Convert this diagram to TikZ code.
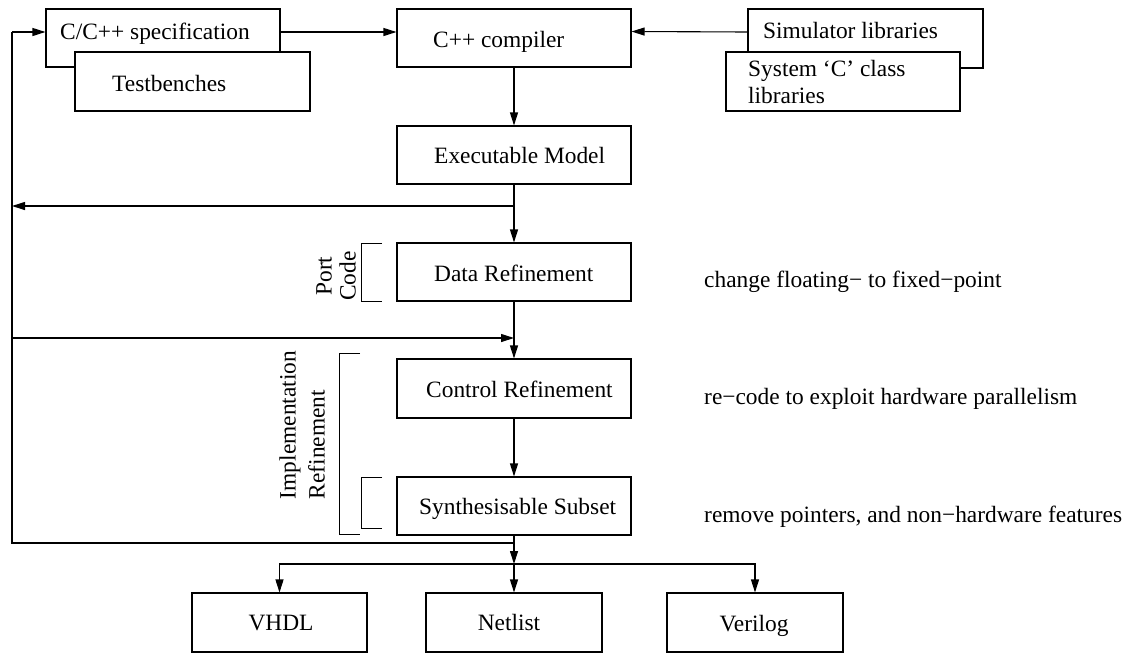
\documentclass[tikz,border=0pt]{standalone}
\usepackage{fontspec}
\setmainfont{Liberation Serif}
\usetikzlibrary{arrows.meta}
\begin{document}
\begin{tikzpicture}[x=1pt,y=-1pt,
  box/.style={draw, line width=1.1pt, inner sep=0pt, fill=white},
  txt/.style={font=\fontsize{23.4}{27}\selectfont, inner sep=0pt},
  arr/.style={line width=1.1pt, -{Triangle[length=13pt,width=8pt]}},
  ln/.style={line width=1.1pt},
  brk/.style={line width=0.7pt}]
\useasboundingbox (0,0) rectangle (1130,654);
% boxes
\node[box, minimum width=234pt, minimum height=58pt] (spec) at (163,38) {};
\node[box, minimum width=235pt, minimum height=59pt] (tb) at (192.5,81.5) {};
\node[box, minimum width=234pt, minimum height=58pt] (comp) at (514,38) {};
\node[box, minimum width=235pt, minimum height=59pt] (sim) at (865.5,38.5) {};
\node[box, minimum width=234pt, minimum height=59pt] (sysc) at (843,81.5) {};
\node[box, minimum width=234pt, minimum height=58pt] (exec) at (514,155) {};
\node[box, minimum width=234pt, minimum height=58pt] (data) at (514,272) {};
\node[box, minimum width=234pt, minimum height=59pt] (ctrl) at (514,388.5) {};
\node[box, minimum width=234pt, minimum height=58pt] (synth) at (514,506) {};
\node[box, minimum width=175pt, minimum height=59pt] (vhdl) at (279.5,622.5) {};
\node[box, minimum width=176pt, minimum height=59pt] (netlist) at (514,622.5) {};
\node[box, minimum width=176pt, minimum height=59pt] (verilog) at (755,622.5) {};
% texts
\node[txt, anchor=base west] (specT) at (60,39) {C/C++ specification};
\node[txt, anchor=base west] (tbT) at (112,91) {Testbenches};
\node[txt, anchor=base west] (compT) at (433,47) {C++ compiler};
\node[txt, anchor=base west] (simT) at (763,38) {Simulator libraries};
\node[txt, anchor=base west] (sysT1) at (748,76) {System ‘C’ class};
\node[txt, anchor=base west] (sysT2) at (748,103) {libraries};
\node[txt, anchor=base west] (execT) at (434,163) {Executable Model};
\node[txt, anchor=base west] (dataT) at (434,281) {Data Refinement};
\node[txt, anchor=base west] (ctrlT) at (426,397) {Control Refinement};
\node[txt, anchor=base west] (synT) at (419,514) {Synthesisable Subset};
\node[txt, anchor=base] (vhdlT) at (281,630) {VHDL};
\node[txt, anchor=base] (netT) at (509,630) {Netlist};
\node[txt, anchor=base] (verT) at (754,631) {Verilog};
\node[txt, anchor=base west] (n1) at (704,287) {change floating− to fixed−point};
\node[txt, anchor=base west] (n2) at (704,404) {re−code to exploit hardware parallelism};
\node[txt, anchor=base west] (n3) at (704,522) {remove pointers, and non−hardware features};
\node[txt, rotate=90, align=center, font=\fontsize{23.4}{24}\selectfont] (port) at (336,276) {Port\\Code};
\node[txt, rotate=90, align=left, font=\fontsize{23.4}{29}\selectfont] (impl) at (302,425) {Implementation\\Refinement};
% brackets
\draw[brk] (382,243) -- (361,243) -- (361,301) -- (382,301);
\draw[brk] (360,353) -- (339,353) -- (339,534) -- (360,534);
\draw[brk] (382,477) -- (361,477) -- (361,528) -- (382,528);
% junction coordinates
\coordinate (j1) at (514,206); \coordinate (l1) at (12,206);
\coordinate (l2) at (12,338); \coordinate (j2) at (514,338);
\coordinate (j3) at (514,543); \coordinate (l3) at (12,543);
\coordinate (l0) at (12,32);
\coordinate (j4) at (514,564);
% connectors
\draw[arr] ([yshift=6pt]spec.east) -- ([yshift=6pt]comp.west);
\draw[arr] ([yshift=6.5pt]sim.west) -- ([yshift=6.5pt]comp.east);
\draw[arr] (comp) -- (exec);
\draw[arr] (exec) -- (data);
\draw[arr] (j1) -- (l1);
\draw[arr] (l2) -- (j2);
\draw[arr] (data) -- (ctrl);
\draw[arr] (ctrl) -- (synth);
\draw[arr] (synth) -- (j4);
\draw[ln] (j3) -- (l3) -- (l0);
\draw[arr] (l0) -- (spec.west |- l0);
\draw[arr] (j4) -| (vhdl);
\draw[arr] (j4) -- (netlist);
\draw[arr] (j4) -| (verilog);
\end{tikzpicture}
\end{document}
